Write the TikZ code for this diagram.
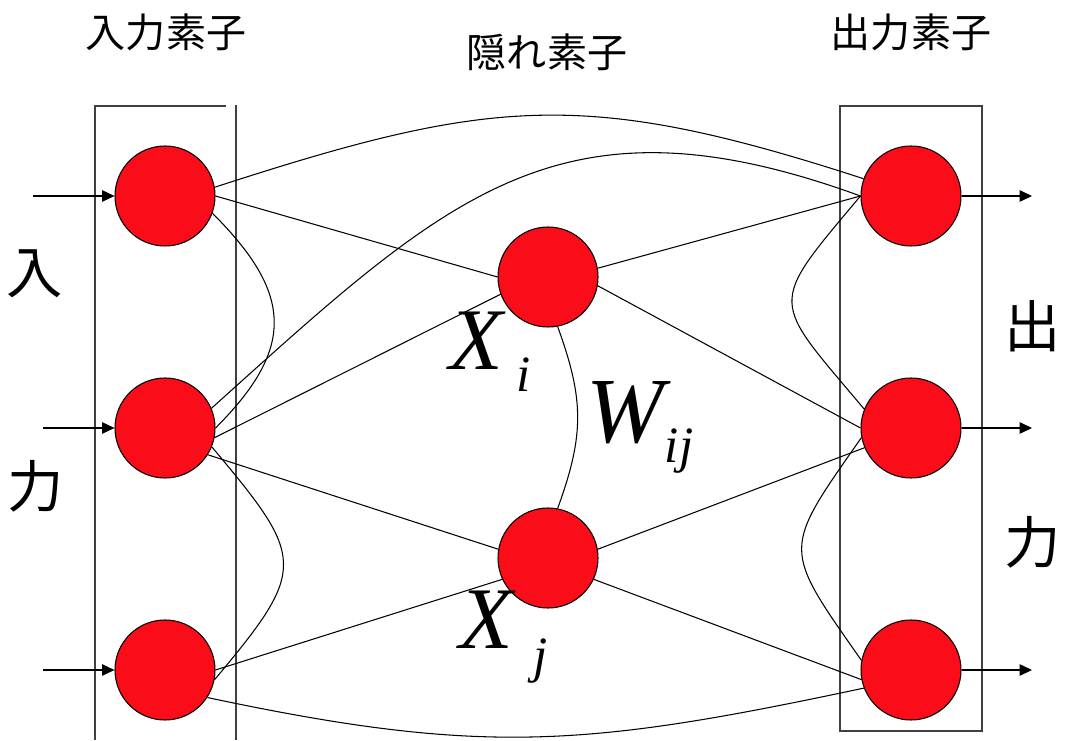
\documentclass[tikz,border=0pt]{standalone}
\usepackage{fontspec}
\setmainfont{Noto Sans CJK JP}
\newfontfamily\timesfont{Liberation Serif}
\usetikzlibrary{arrows.meta}
\definecolor{cUnit}{RGB}{250,12,25}
\newcommand\lowsub[2]{\raisebox{-#1}{\fontsize{29}{29}\selectfont #2}}

\begin{document}
\begin{tikzpicture}[x=0.2mm, y=0.2mm,
  unit/.style={circle, draw=black, line width=0.6pt, fill=cUnit,
    minimum size=20mm, inner sep=0pt},
  link/.style={line width=0.6pt},
  frame/.style={line width=0.8pt, draw=black!75},
  sig/.style={-{Triangle[length=7pt,width=6.5pt]}, line width=0.6pt},
  head/.style={font=\fontsize{22.8}{26}\selectfont, inner sep=0pt},
  side/.style={font=\fontsize{32}{36}\selectfont, inner sep=0pt},
  sym/.style={font=\timesfont\itshape\fontsize{50}{50}\selectfont,
    inner sep=0pt, anchor=base west},
]
\useasboundingbox (0,0) rectangle (1067,740);

% frames
\draw[frame] (226,634) -- (95,634) -- (95,0);
\draw[frame] (236,635) -- (236,0);
\draw[frame] (840,9) rectangle (982,634);

% input, hidden and output units
\node[unit] (i1) at (165,544) {};
\node[unit] (i2) at (165,312) {};
\node[unit] (i3) at (165,70) {};
\node[unit] (h1) at (548,463) {};
\node[unit] (h2) at (548,182) {};
\node[unit] (o1) at (911,544) {};
\node[unit] (o2) at (911,312) {};
\node[unit] (o3) at (911,70) {};

\coordinate (s1) at (33,544);
\coordinate (s2) at (43,312);
\coordinate (s3) at (43,70);
\coordinate (t1) at (1032,544);
\coordinate (t2) at (1032,312);
\coordinate (t3) at (1032,70);
\draw[sig] (s1) -- (i1.west);
\draw[sig] (s2) -- (i2.west);
\draw[sig] (s3) -- (i3.west);
\draw[sig] (o1.east) -- (t1);
\draw[sig] (o2.east) -- (t2);
\draw[sig] (o3.east) -- (t3);

% connections
\draw[link] (i1.10) to[out=18, in=162, looseness=1.15] (o1.160);
\draw[link] (i2.23) to[out=42, in=160, looseness=1.2] (o1.180);
\draw[link] (i3.-33) to[out=-12, in=192, looseness=1.1] (o3.201);
\draw[link] (i1.-20) to[out=-45, in=45, looseness=1.35] (i2.0);
\draw[link] (i2.-22) to[out=-50, in=50, looseness=1.6] (i3.-11);
\draw[link] (o1.180) to[out=-130, in=130, looseness=1.75] (o2.158);
\draw[link] (o2.191) to[out=-125, in=125, looseness=1.6] (o3.169);
\draw[link] (h1.-79) to[out=-70, in=70, looseness=1.1] (h2.79);
\draw[link] (i1.0) -- (h1.180);
\draw[link] (i2.-11) -- (h1.200);
\draw[link] (i2.-32) -- (h2.170);
\draw[link] (i3.0) -- (h2.205);
\draw[link] (h1.10) -- (o1.180);
\draw[link] (h1.-10) -- (o2.180);
\draw[link] (h2.10) -- (o2.203);
\draw[link] (h2.-25) -- (o3.191);

% labels
\node[head] (lin) at (166,708) {入力素子};
\node[head] (lhid) at (547,688) {隠れ素子};
\node[head] (lout) at (911,708) {出力素子};
\node[side] (in1) at (35,466) {入};
\node[side] (in2) at (36,254) {力};
\node[side] (out1) at (1033,414) {出};
\node[side] (out2) at (1033,198) {力};
\node[sym] (xi) at (449,370) {X\kern2.7mm\lowsub{4.4mm}{i}};
\node[sym, font=\timesfont\itshape\fontsize{53}{53}\selectfont] (wij)
  at (586,297) {W\kern0.2mm\lowsub{4mm}{ij}};
\node[sym] (xj) at (459,92) {X\kern4mm\lowsub{4.8mm}{j}};
\end{tikzpicture}
\end{document}
